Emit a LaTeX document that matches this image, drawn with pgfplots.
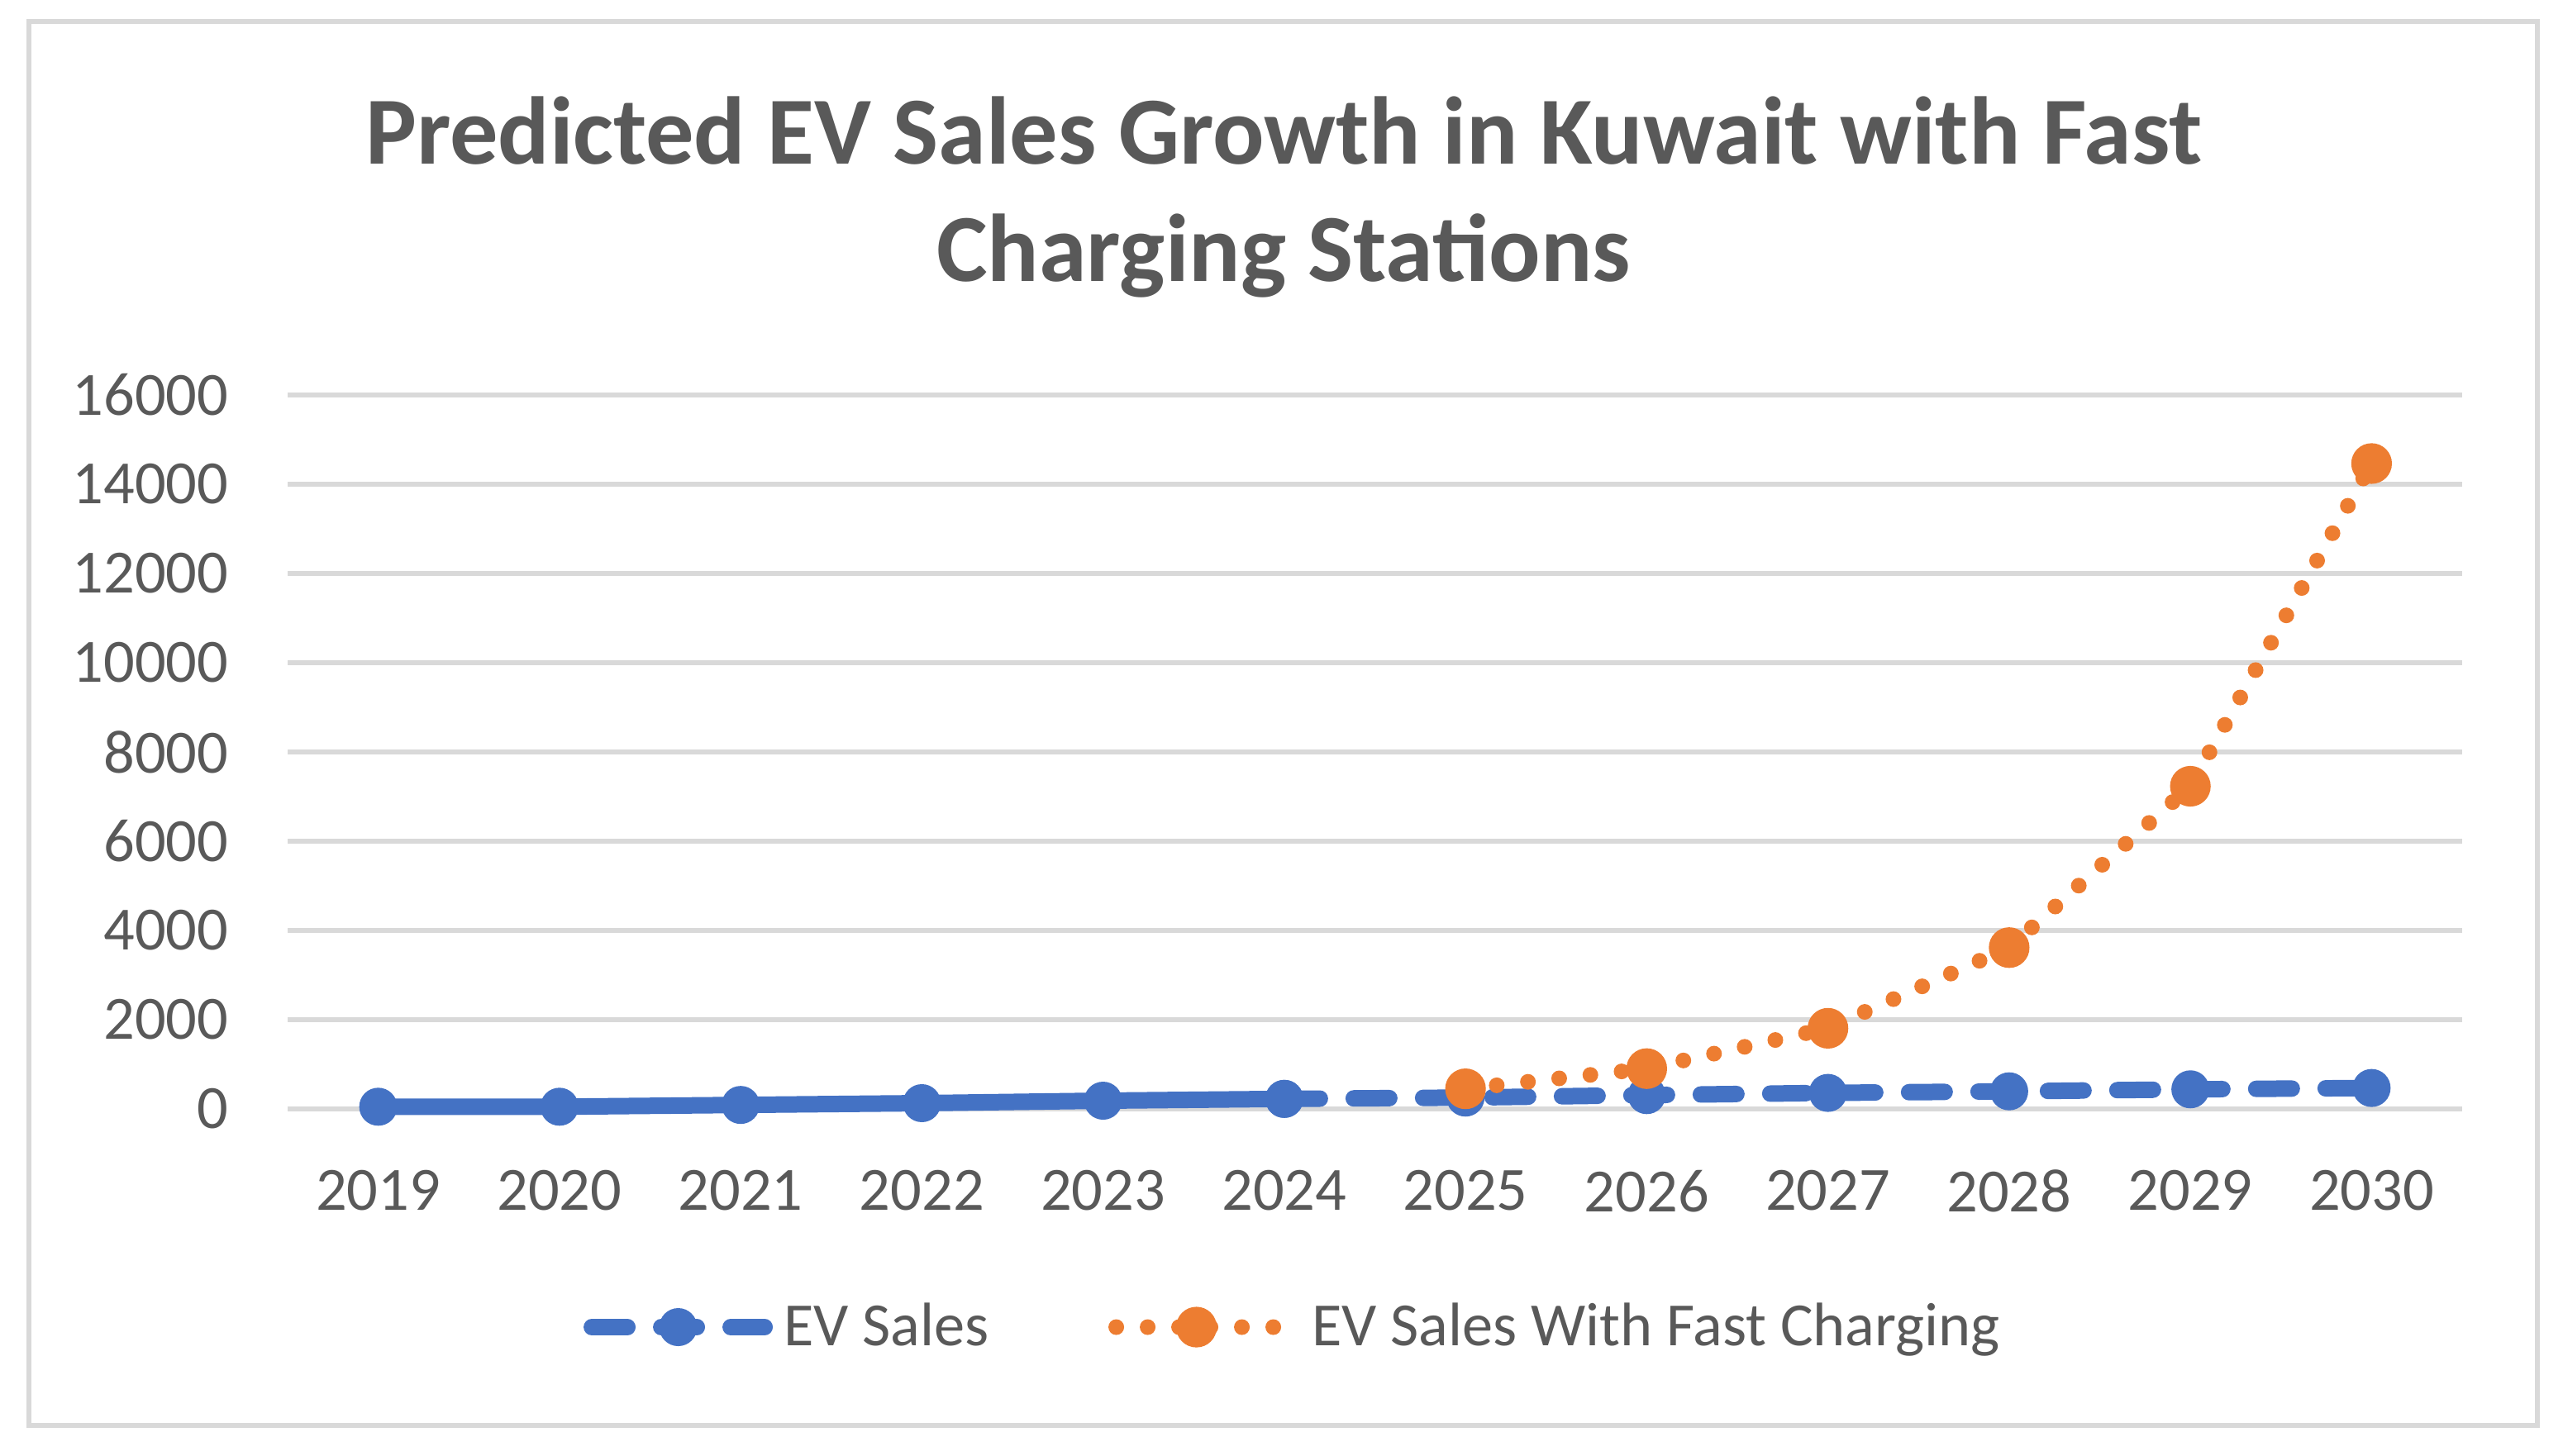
\documentclass[border=0pt]{standalone}
\usepackage{pgfplots}
\pgfplotsset{compat=1.18}
\usepackage{fontspec}
\setmainfont{Carlito}
\definecolor{evblue}{HTML}{4472C4}
\definecolor{evorange}{HTML}{ED7D31}
\definecolor{txtgray}{HTML}{595959}
\definecolor{gridgray}{HTML}{D9D9D9}

\pgfplotsset{
  bluelegend/.style={legend image code/.code={\draw[mark repeat=2,mark phase=2,##1] plot coordinates {(0pt,0pt) (26.125pt,0pt) (52.25pt,0pt)};}},
  orangelegend/.style={legend image code/.code={\draw[mark repeat=2,mark phase=2,##1] plot coordinates {(0pt,0pt) (24.25pt,0pt) (48.5pt,0pt)};}},
}

\pgfplotstableread{
x  y
0  50
1  50
2  90
3  130
4  185
5  226
}\evsolid
\pgfplotstableread{
x  y
5  226
6  255
7  310
8  360
9  395
10 440
11 470
}\evdashed
\pgfplotstableread{
x  y
6  452
7  904
8  1808
9  3616
10 7232
11 14464
}\evfast

\begin{document}
\begin{tikzpicture}
\path[use as bounding box] (0,0) rectangle (775.25pt,440.25pt);
\draw[gridgray, line width=1.6pt] (8.75pt,9pt) rectangle (767.5pt,433.75pt);
\node[anchor=base, font=\bfseries\fontsize{29.1}{34}\selectfont, text=txtgray, inner sep=0pt] at (388.25pt,390.75pt) {Predicted EV Sales Growth in Kuwait with Fast};
\node[anchor=base, font=\bfseries\fontsize{29.1}{34}\selectfont, text=txtgray, inner sep=0pt] at (388.25pt,355.25pt) {Charging Stations};
\begin{axis}[
  at={(87pt,104.75pt)}, anchor=south west,
  width=657.75pt, height=216pt, scale only axis,
  xmin=-0.5, xmax=11.5, ymin=0, ymax=16000,
  clip=false,
  xtick={0,1,2,3,4,5,6,7,8,9,10,11},
  xticklabels={2019,2020,2021,2022,2023,2024,2025,2026,2027,2028,2029,2030},
  ytick={0,2000,4000,6000,8000,10000,12000,14000,16000},
  scaled y ticks=false,
  axis line style={draw=none},
  major tick length=0pt,
  ymajorgrids, grid style={gridgray, line width=1.7pt},
  tick label style={font=\fontsize{18.6}{22}\selectfont, text=txtgray},
  /pgf/number format/assume math mode=true,
  /pgf/number format/1000 sep={},
  yticklabel style={anchor=east, inner sep=0pt, xshift=-17.75pt},
  xticklabel style={anchor=north, inner sep=0pt, yshift=-18.25pt},
  legend columns=2,
  legend style={draw=none, fill=none, inner sep=0pt, outer sep=0pt,
    at={(0.1361,-0.30556)}, anchor=west,
    font=\fontsize{18.6}{22}\selectfont, text=txtgray,
    nodes={inner sep=0pt},
    /tikz/every odd column/.style={column sep=0pt},
    /tikz/every even column/.style={column sep=0pt}},
  legend cell align=left,
]
\addplot[evblue, line width=5pt, line cap=round, dash pattern=on 10.75pt off 10.25pt,
  mark=*, mark size=5.5pt, mark options={solid, fill=evblue, draw=evblue, line width=0.5pt},
  bluelegend]
  table[x=x,y=y] {\evdashed};
\addlegendentry{\makebox[101.5pt][l]{\hspace{3.25pt}EV Sales}}
\addplot[evblue, line width=5pt, line cap=round, line join=round,
  mark=*, mark size=5.5pt, mark options={solid, fill=evblue, draw=evblue, line width=0.5pt},
  forget plot]
  table[x=x,y=y] {\evsolid};
\addplot[evorange, line width=4.75pt, line cap=round, dash pattern=on 0pt off 9.5pt,
  mark=*, mark size=5.9pt, mark options={solid, fill=evorange, draw=evorange, line width=0.5pt},
  orangelegend]
  table[x=x,y=y] {\evfast};
\addlegendentry{\hspace{8.25pt}EV Sales With Fast Charging}
\end{axis}
\end{tikzpicture}
\end{document}
